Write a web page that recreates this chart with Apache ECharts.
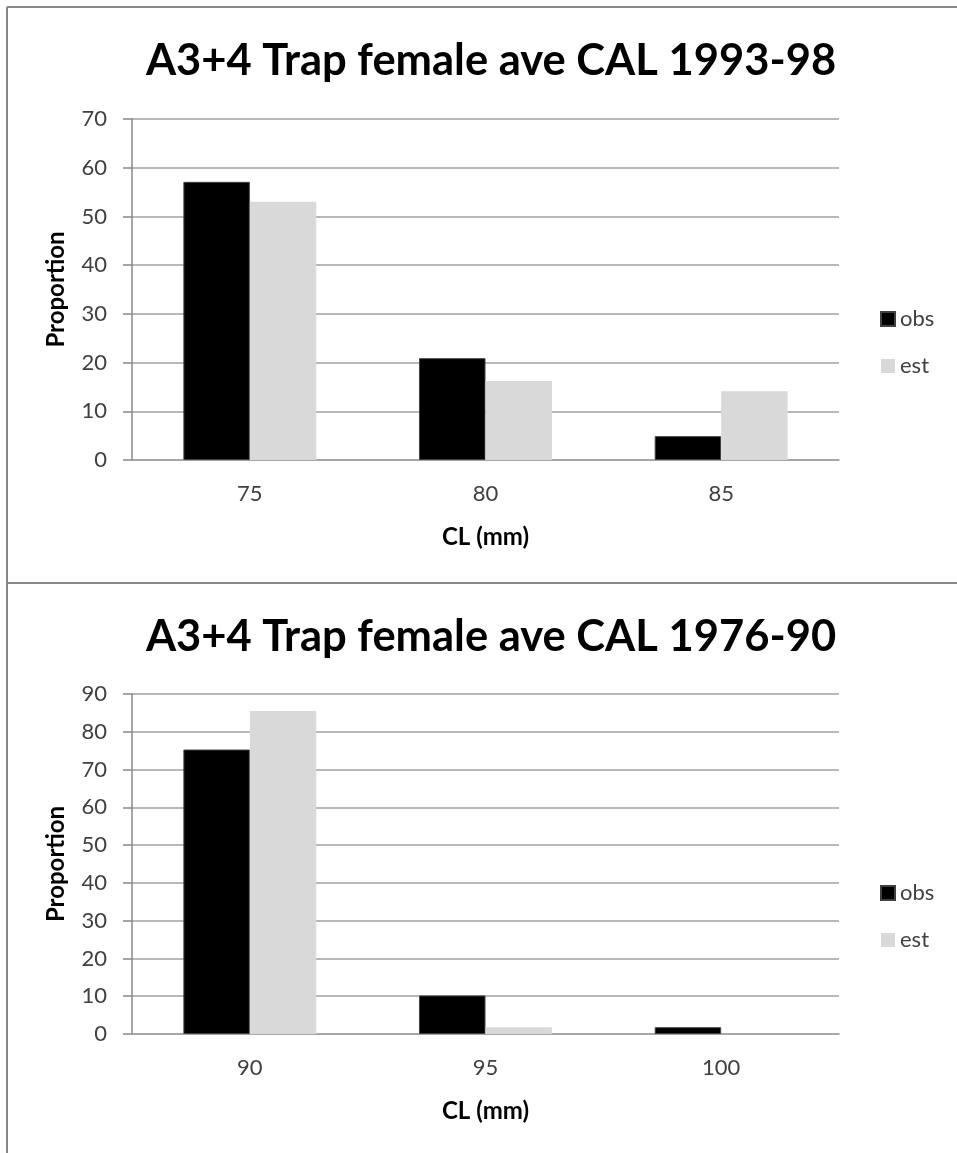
<!DOCTYPE html>
<html>
<head>
<meta charset="utf-8">
<script src="https://cdn.jsdelivr.net/npm/echarts@6/dist/echarts.min.js"></script>
<style>
html,body{margin:0;padding:0;background:#fff;}
#chart{width:957px;height:1153px;}
</style>
</head>
<body>
<div id="chart"></div>
<script>
// Chart 1 data
const title1 = 'A3+4 Trap female ave CAL 1993-98';
const categories1 = ['75', '80', '85'];
const obs1 = [57.1, 20.9, 4.9];
const est1 = [53.0, 16.2, 14.1];
const yMax1 = 70;

// Chart 2 data
const title2 = 'A3+4 Trap female ave CAL 1976-90';
const categories2 = ['90', '95', '100'];
const obs2 = [75.3, 10.2, 1.8];
const est2 = [85.5, 1.8, 0];
const yMax2 = 90;

const seriesNames = ['obs', 'est'];
const xName = 'CL (mm)';
const yName = 'Proportion';

const FONT = 'Lato';
const tickColor = '#404040';
const gridColor = '#a0a0a0';

function xAxisCfg(idx, cats) {
  return {
    type: 'category', gridIndex: idx, data: cats,
    name: xName, nameLocation: 'middle', nameGap: 65,
    nameTextStyle: {fontFamily: FONT, fontWeight: 'bold', fontSize: 24, color: '#000'},
    axisLine: {lineStyle: {color: gridColor, width: 1.5}},
    axisTick: {show: false},
    axisLabel: {fontFamily: FONT, fontSize: 22, color: tickColor, margin: 23}
  };
}
function yAxisCfg(idx, max) {
  return {
    type: 'value', gridIndex: idx, min: 0, max: max, interval: 10,
    name: yName, nameLocation: 'middle', nameGap: 64,
    nameTextStyle: {fontFamily: FONT, fontWeight: 'bold', fontSize: 24, color: '#000'},
    axisLine: {show: true, lineStyle: {color: '#888', width: 1.5}},
    axisTick: {show: true, length: 9, lineStyle: {color: '#888', width: 1.5}},
    splitLine: {lineStyle: {color: gridColor, width: 1.5}},
    axisLabel: {fontFamily: FONT, fontSize: 22, color: tickColor, margin: 25}
  };
}
function barSeries(name, data, idx, color, border) {
  return {
    type: 'bar', name: name, data: data,
    xAxisIndex: idx, yAxisIndex: idx,
    barGap: '0%', barCategoryGap: '43.6%',
    itemStyle: {color: color, borderColor: border, borderWidth: border ? 1 : 0},
    emphasis: {disabled: true}
  };
}
function legendCfg(top) {
  return {
    orient: 'vertical', left: 875, top: top,
    itemWidth: 14, itemHeight: 14, itemGap: 25,
    icon: 'rect',
    textStyle: {fontFamily: FONT, fontSize: 22, color: tickColor, lineHeight: 22},
    data: seriesNames.map((n, i) => ({name: n, itemStyle: {color: i === 0 ? '#000' : '#d9d9d9'}}))
  };
}

const chart = echarts.init(document.getElementById('chart'), null, {renderer: 'canvas'});
const option = {
  animation: false,
  backgroundColor: '#fff',
  title: [
    {text: title1, left: 486, top: 56, textAlign: 'center', textVerticalAlign: 'middle',
     textStyle: {fontFamily: FONT, fontWeight: 'bold', fontSize: 43.5, color: '#000'}},
    {text: title2, left: 486, top: 632, textAlign: 'center', textVerticalAlign: 'middle',
     textStyle: {fontFamily: FONT, fontWeight: 'bold', fontSize: 43.5, color: '#000'}}
  ],
  legend: [legendCfg(303), legendCfg(877)],
  grid: [
    {left: 132, top: 119, width: 707, height: 341},
    {left: 132, top: 694, width: 707, height: 340}
  ],
  xAxis: [xAxisCfg(0, categories1), xAxisCfg(1, categories2)],
  yAxis: [yAxisCfg(0, yMax1), yAxisCfg(1, yMax2)],
  series: [
    barSeries('obs', obs1, 0, '#000', '#404040'),
    barSeries('est', est1, 0, '#d9d9d9', null),
    barSeries('obs', obs2, 1, '#000', '#404040'),
    barSeries('est', est2, 1, '#d9d9d9', null)
  ],
  graphic: [
    {type: 'line', shape: {x1: 7, y1: 7, x2: 957, y2: 7}, style: {stroke: '#888', lineWidth: 2}, silent: true},
    {type: 'line', shape: {x1: 7, y1: 7, x2: 7, y2: 1153}, style: {stroke: '#888', lineWidth: 2}, silent: true},
    {type: 'line', shape: {x1: 7, y1: 583, x2: 957, y2: 583}, style: {stroke: '#888', lineWidth: 2}, silent: true}
  ]
};
chart.setOption(option);
</script>
</body>
</html>
